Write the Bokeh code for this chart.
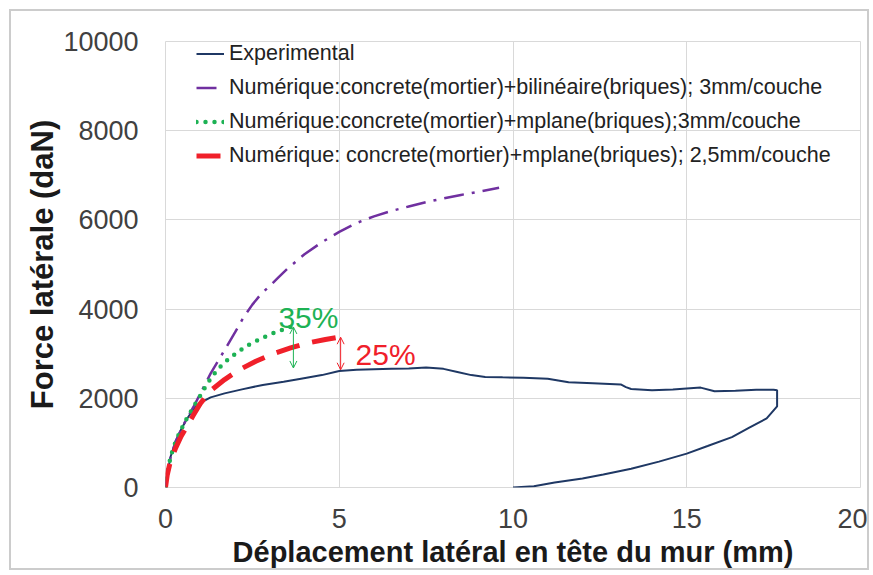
from bokeh.plotting import figure
from bokeh.models import Range1d, FixedTicker, Legend, LegendItem, Arrow, OpenHead, Label
from bokeh.embed import file_html
from bokeh.resources import INLINE

# ---- data ----
exp_x = [0, 0.05, 0.15, 0.3, 0.45, 0.6, 0.8, 1.0, 1.3, 1.7, 2.2, 2.8, 3.4, 3.9, 4.5, 5.0, 5.5, 6.0,
         6.5, 7.0, 7.5, 8.0, 8.4, 8.8, 9.2, 9.7, 10.3, 11.0, 11.3, 11.6, 12.3, 13.1, 13.25, 13.4,
         14.0, 14.6, 15.2, 15.4, 15.8, 16.4, 17.0, 17.5, 17.6, 17.6, 17.3, 16.8, 16.3, 15.6, 15.0,
         14.2, 13.4, 12.6, 12.0, 11.2, 10.6, 10.0]
exp_y = [0, 300, 700, 1050, 1300, 1520, 1750, 1900, 2020, 2110, 2200, 2300, 2370, 2440, 2520, 2610,
         2640, 2650, 2660, 2670, 2690, 2660, 2590, 2520, 2480, 2470, 2460, 2440, 2400, 2360, 2340,
         2310, 2250, 2210, 2180, 2200, 2230, 2240, 2160, 2170, 2190, 2190, 2180, 1820, 1550, 1340,
         1130, 930, 760, 580, 420, 290, 200, 110, 30, 0]

bil_x = [0, 0.05, 0.15, 0.3, 0.45, 0.6, 0.8, 1.0, 1.3, 1.5, 1.7, 2.0, 2.25, 2.5, 2.75, 3.0, 3.25,
         3.5, 4.0, 4.5, 5.0, 5.5, 6.0, 6.5, 7.0, 7.5, 8.0, 8.5, 9.0, 9.6]
bil_y = [0, 300, 700, 1050, 1300, 1530, 1800, 2100, 2560, 2820, 3080, 3480, 3820, 4100, 4340,
         4520, 4710, 4900, 5230, 5500, 5730, 5930, 6080, 6200, 6300, 6400, 6480, 6560, 6630, 6720]

mp3_x = [0, 0.05, 0.15, 0.3, 0.45, 0.6, 0.8, 1.0, 1.2, 1.5, 1.8, 2.1, 2.4, 2.7, 3.0, 3.3, 3.6]
mp3_y = [0, 300, 700, 1050, 1300, 1530, 1800, 2060, 2330, 2650, 2870, 3050, 3200, 3320, 3430,
         3520, 3600]

mp25_x = [0, 0.05, 0.15, 0.3, 0.45, 0.6, 0.8, 1.0, 1.3, 1.7, 2.1, 2.6, 3.1, 3.6, 4.1, 4.6, 5.05]
mp25_y = [0, 280, 620, 900, 1150, 1350, 1620, 1880, 2170, 2420, 2630, 2830, 3000, 3130, 3240,
          3320, 3380]

x_ticks = [0, 5, 10, 15, 20]
y_ticks = [0, 2000, 4000, 6000, 8000, 10000]

labels = ["Experimental",
          "Numérique:concrete(mortier)+bilinéaire(briques); 3mm/couche",
          "Numérique:concrete(mortier)+mplane(briques);3mm/couche",
          "Numérique: concrete(mortier)+mplane(briques); 2,5mm/couche"]

gap_green = {"x": 3.68, "top": 3600, "bottom": 2680, "text": "35%", "tx": 3.25, "ty": 3450}
gap_red = {"x": 5.04, "top": 3370, "bottom": 2640, "text": "25%", "tx": 5.47, "ty": 2620}

BLUE = "#1F3864"
PURPLE = "#7030A0"
GREEN = "#1DB254"
RED = "#F0202A"

p = figure(width=860, height=561, output_backend="svg", toolbar_location=None,
           x_range=Range1d(0, 20), y_range=Range1d(0, 10000),
           min_border_left=154, min_border_right=11, min_border_top=30, min_border_bottom=85)
p.styles = {"border": "2px solid #CCCCCC", "margin-left": "9px", "margin-top": "9px"}

r_exp = p.line(exp_x, exp_y, line_color=BLUE, line_width=2)
r_bil = p.line(bil_x, bil_y, line_color=PURPLE, line_width=2.5, line_dash="20 8 3 8")
r_mp3 = p.line(mp3_x, mp3_y, line_color=GREEN, line_width=4.5, line_dash="0 9", line_cap="round")
r_mp25 = p.line(mp25_x, mp25_y, line_color=RED, line_width=5, line_dash="24 13")

for g, col in ((gap_green, GREEN), (gap_red, RED)):
    p.add_layout(Arrow(start=OpenHead(size=7, line_color=col, line_width=1),
                       end=OpenHead(size=7, line_color=col, line_width=1),
                       x_start=g["x"], y_start=g["top"], x_end=g["x"], y_end=g["bottom"],
                       line_color=col, line_width=1))
    p.add_layout(Label(x=g["tx"], y=g["ty"], text=g["text"], text_color=col,
                       text_font="Liberation Sans", text_font_size="30px"))

legend = Legend(items=[LegendItem(label=labels[0], renderers=[r_exp]),
                       LegendItem(label=labels[1], renderers=[r_bil]),
                       LegendItem(label=labels[2], renderers=[r_mp3]),
                       LegendItem(label=labels[3], renderers=[r_mp25])],
                location=(31, 319), padding=0, margin=0, spacing=9,
                glyph_width=28, glyph_height=25, label_height=25, label_standoff=5,
                label_text_font="Liberation Sans", label_text_font_size="21.5px",
                label_text_color="#222222",
                background_fill_alpha=0, border_line_alpha=0)
p.add_layout(legend, "center")

p.xaxis.ticker = FixedTicker(ticks=x_ticks)
p.yaxis.ticker = FixedTicker(ticks=y_ticks)
for ax in (p.xaxis, p.yaxis):
    ax.axis_line_color = None
    ax.major_tick_line_color = None
    ax.minor_tick_line_color = None
    ax.major_label_text_font = "Liberation Sans"
    ax.major_label_text_font_size = "27px"
    ax.major_label_text_color = "#404040"
    ax.axis_label_text_font = "Liberation Sans"
    ax.axis_label_text_font_style = "bold"
    ax.axis_label_text_color = "#1a1a1a"
p.xaxis.axis_label_text_font_size = "29px"
p.yaxis.axis_label_text_font_size = "31px"
p.xaxis.major_label_standoff = 15
p.yaxis.major_label_standoff = 21
p.xaxis.axis_label = "Déplacement latéral en tête du mur (mm)"
p.yaxis.axis_label = "Force latérale (daN)"
p.xaxis.axis_label_standoff = 5
p.yaxis.axis_label_standoff = 0

p.xgrid.ticker = FixedTicker(ticks=x_ticks)
p.ygrid.ticker = FixedTicker(ticks=y_ticks)
p.grid.grid_line_color = "#D9D9D9"
p.grid.grid_line_width = 1
p.outline_line_color = "#D9D9D9"
p.outline_line_width = 1

open("out.html", "w").write(file_html(p, INLINE))
